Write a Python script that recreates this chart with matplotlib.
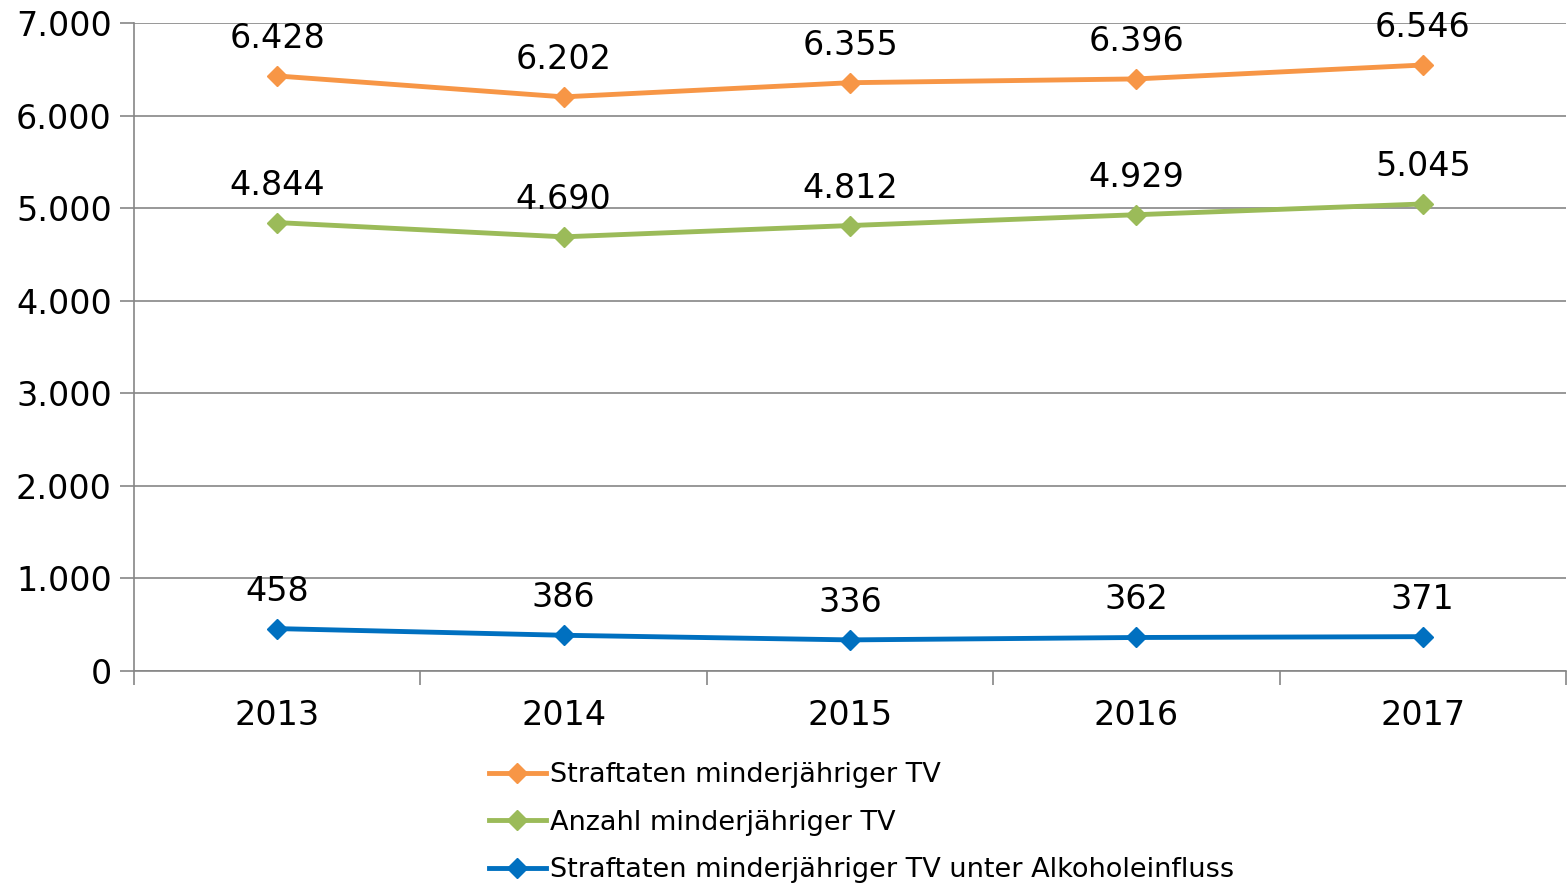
import matplotlib.pyplot as plt

years = ["2013", "2014", "2015", "2016", "2017"]
straftaten = [6428, 6202, 6355, 6396, 6546]
anzahl = [4844, 4690, 4812, 4929, 5045]
alkohol = [458, 386, 336, 362, 371]

names = ["Straftaten minderjähriger TV",
         "Anzahl minderjähriger TV",
         "Straftaten minderjähriger TV unter Alkoholeinfluss"]
colors = ["#F79646", "#9BBB59", "#0070C0"]

plt.rcParams['font.family'] = ['DejaVu Sans']

fig = plt.figure(figsize=(15.68, 8.84), dpi=100)
ax = fig.add_axes([134 / 1568, 1 - 671 / 884, 1432 / 1568, 648 / 884])

x = list(range(len(years)))
for vals, name, c in zip([straftaten, anzahl, alkohol], names, colors):
    ax.plot(x, vals, color=c, lw=3.5, marker="D", ms=10, label=name, zorder=3)
    for xi, v in zip(x, vals):
        lab = f"{v:,}".replace(",", ".")
        ax.annotate(lab, (xi, v), xytext=(0, 27), textcoords="offset points",
                    ha="center", va="center", fontsize=24, color="black")

ax.set_xlim(-0.5, 4.5)
ax.set_ylim(0, 7000)
ax.set_yticks(range(0, 7001, 1000))
ax.set_yticklabels([f"{v:,}".replace(",", ".") for v in range(0, 7001, 1000)])
ax.set_xticks(x)
ax.set_xticklabels(years)
ax.set_xticks([i - 0.5 for i in range(6)], minor=True)
ax.tick_params(axis="x", which="major", length=0, pad=20, labelsize=24)
ax.tick_params(axis="x", which="minor", length=10, color="#868686", width=1.2)
ax.tick_params(axis="y", length=10, color="#868686", width=1.2, pad=6, labelsize=24)
ax.grid(axis="y", color="#868686", lw=1.2)
ax.set_axisbelow(True)
for s in ["top", "right"]:
    ax.spines[s].set_visible(False)
for s in ["left", "bottom"]:
    ax.spines[s].set_color("#868686")
    ax.spines[s].set_linewidth(1.2)

fig.legend(loc="upper left", bbox_to_anchor=(489 / 1568, 1 - 762 / 884),
           frameon=False, fontsize=19.5, handlelength=2.1, handletextpad=0.15,
           labelspacing=0.8, borderaxespad=0, borderpad=0)

fig.savefig("out.png", dpi=100)
